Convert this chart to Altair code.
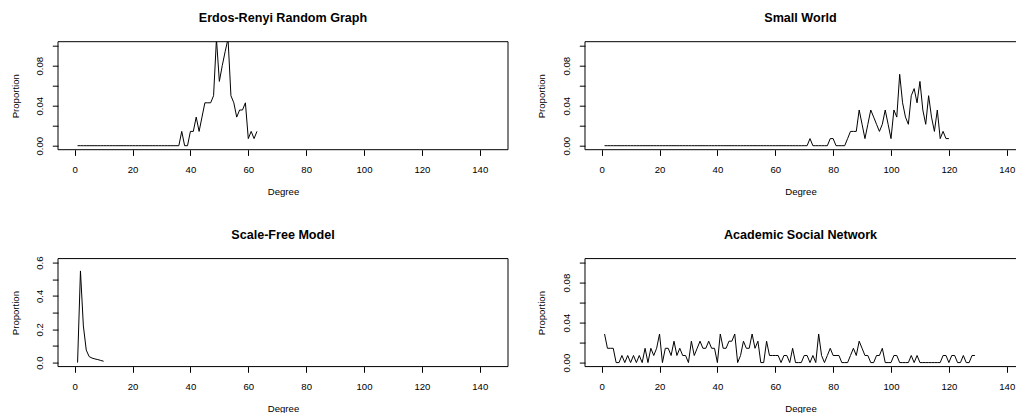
import altair as alt
import pandas as pd

FONT = "Liberation Sans"

# ---------------- data ----------------
er_degree = list(range(1, 64))
er_prop = [0.0] * 36 + [
    0.0143, 0.0, 0.0, 0.0143, 0.0143, 0.0286, 0.0143, 0.0286, 0.0429, 0.0429,
    0.0429, 0.0500, 0.1070, 0.0643, 0.0800, 0.0940, 0.1070, 0.0500, 0.0429, 0.0286,
    0.0357, 0.0357, 0.0429, 0.0071, 0.0143, 0.0071, 0.0143,
]

sw_degree = list(range(1, 121))
sw_prop = [0.0] * 71 + [
    0.0071, 0.0, 0.0, 0.0, 0.0, 0.0, 0.0, 0.0071, 0.0071, 0.0,      # 72-81
    0.0, 0.0, 0.0, 0.0071, 0.0143, 0.0143, 0.0143, 0.0357, 0.0214, 0.0071,  # 82-91
    0.0214, 0.0357, 0.0286, 0.0214, 0.0143, 0.0214, 0.0357, 0.0214, 0.0071, 0.0357,  # 92-101
    0.0286, 0.0714, 0.0429, 0.0286, 0.0214, 0.0500, 0.0571, 0.0429, 0.0643, 0.0357,  # 102-111
    0.0214, 0.0500, 0.0286, 0.0143, 0.0357, 0.0071, 0.0143, 0.0071, 0.0071,          # 112-120
]

sf_degree = list(range(1, 11))
sf_prop = [0.0, 0.55, 0.22, 0.075, 0.036, 0.027, 0.022, 0.018, 0.013, 0.008]

ac_degree = list(range(1, 130))
ac_prop = [
    0.0286, 0.0143, 0.0143, 0.0143, 0.0, 0.0, 0.0071, 0.0, 0.0071, 0.0,          # 1-10
    0.0071, 0.0, 0.0071, 0.0, 0.0143, 0.0, 0.0143, 0.0071, 0.0143, 0.0286,       # 11-20
    0.0, 0.0143, 0.0143, 0.0071, 0.0214, 0.0071, 0.0143, 0.0071, 0.0071, 0.0,    # 21-30
    0.0214, 0.0071, 0.0143, 0.0214, 0.0143, 0.0143, 0.0214, 0.0143, 0.0143, 0.0, # 31-40
    0.0286, 0.0143, 0.0143, 0.0214, 0.0214, 0.0286, 0.0, 0.0071, 0.0214, 0.0143, # 41-50
    0.0143, 0.0286, 0.0143, 0.0214, 0.0, 0.0, 0.0214, 0.0071, 0.0071, 0.0071,    # 51-60
    0.0071, 0.0, 0.0071, 0.0071, 0.0, 0.0143, 0.0, 0.0, 0.0, 0.0071,             # 61-70
    0.0071, 0.0, 0.0071, 0.0, 0.0286, 0.0071, 0.0, 0.0071, 0.0143, 0.0071,       # 71-80
    0.0071, 0.0071, 0.0, 0.0, 0.0, 0.0071, 0.0143, 0.0071, 0.0214, 0.0143,       # 81-90
    0.0071, 0.0071, 0.0, 0.0, 0.0071, 0.0071, 0.0143, 0.0, 0.0, 0.0,             # 91-100
    0.0071, 0.0071, 0.0, 0.0, 0.0, 0.0, 0.0071, 0.0, 0.0071, 0.0,                # 101-110
    0.0, 0.0, 0.0, 0.0, 0.0, 0.0, 0.0, 0.0071, 0.0071, 0.0,                      # 111-120
    0.0071, 0.0071, 0.0, 0.0, 0.0071, 0.0, 0.0, 0.0071, 0.0071,                  # 121-129
]

x_ticks = [0, 20, 40, 60, 80, 100, 120, 140]
y_ticks_small = [0.0, 0.02, 0.04, 0.06, 0.08, 0.10]
y_ticks_sf = [0.0, 0.1, 0.2, 0.3, 0.4, 0.5, 0.6]

W, H = 450, 108
W_RIGHT = 431                     # right column is cut by the window edge
X_MIN = -5.76
PX_PER_UNIT = W / (149.76 - X_MIN)
X_DOMAIN_LEFT = [X_MIN, 149.76]
X_DOMAIN_RIGHT = [X_MIN, X_MIN + W_RIGHT / PX_PER_UNIT]
Y_DOMAIN_SMALL = [-0.004, 0.104]
Y_DOMAIN_SF = [-0.024, 0.624]

small_expr = "round(datum.value * 100) % 4 == 0 ? format(datum.value, '.2f') : ''"
sf_expr = "round(datum.value * 10) % 2 == 0 ? format(datum.value, '.1f') : ''"


def panel(title, degree, prop, ydomain, yticks, label_expr, right=False, title_offset=3.4):
    width = W_RIGHT if right else W
    xdomain = X_DOMAIN_RIGHT if right else X_DOMAIN_LEFT
    df = pd.DataFrame({"Degree": degree, "Proportion": prop})
    line = alt.Chart(df).mark_line(color="black", strokeWidth=1, clip=True).encode(
        x=alt.X(
            "Degree:Q",
            scale=alt.Scale(domain=xdomain, nice=False, zero=False),
            axis=alt.Axis(
                values=x_ticks, format="d", grid=False, domain=False,
                tickSize=5.7, tickColor="black", tickWidth=1,
                labelFont=FONT, labelFontSize=9.6, labelColor="black",
                labelPadding=9.0, labelFlush=False, labelOverlap=False,
                title="Degree", titleFont=FONT, titleFontSize=9.6,
                titleFontWeight="normal", titleColor="black",
                titleY=42, titleBaseline="middle",
            ),
        ),
        y=alt.Y(
            "Proportion:Q",
            scale=alt.Scale(domain=ydomain, nice=False, zero=False),
            axis=alt.Axis(
                values=yticks, grid=False, domain=False,
                tickSize=5.7, tickColor="black", tickWidth=1,
                labelExpr=label_expr,
                labelFont=FONT, labelFontSize=9.6, labelColor="black",
                labelAngle=270, labelAlign="center", labelBaseline="middle",
                labelPadding=12.6, labelFlush=False, labelOverlap=False,
                title="Proportion", titleFont=FONT, titleFontSize=9.6,
                titleFontWeight="normal", titleColor="black",
                titleAngle=270, titleX=-43, titleY=H / 2,
                titleAlign="center", titleBaseline="middle",
            ),
        ),
    )
    frame_df = pd.DataFrame({"f": [0]})
    frame = alt.Chart(frame_df)
    edges = [
        frame.mark_rule(color="black", strokeWidth=1).encode(
            x=alt.value(0), x2=alt.value(width), y=alt.value(0)),
        frame.mark_rule(color="black", strokeWidth=1).encode(
            x=alt.value(0), x2=alt.value(width), y=alt.value(H)),
        frame.mark_rule(color="black", strokeWidth=1).encode(
            x=alt.value(0), y=alt.value(0), y2=alt.value(H)),
    ]
    if not right:
        edges.append(frame.mark_rule(color="black", strokeWidth=1).encode(
            x=alt.value(width), y=alt.value(0), y2=alt.value(H)))
    return alt.layer(line, *edges).properties(
        width=width, height=H,
        title=alt.TitleParams(
            title, font=FONT, fontSize=12.6, fontWeight="bold", color="black",
            offset=title_offset, baseline="bottom", anchor="middle",
        ),
    )


p1 = panel("Erdos-Renyi Random Graph", er_degree, er_prop, Y_DOMAIN_SMALL, y_ticks_small, small_expr)
p2 = panel("Small World", sw_degree, sw_prop, Y_DOMAIN_SMALL, y_ticks_small, small_expr, right=True)
p3 = panel("Scale-Free Model", sf_degree, sf_prop, Y_DOMAIN_SF, y_ticks_sf, sf_expr, title_offset=1.5)
p4 = panel("Academic Social Network", ac_degree, ac_prop, Y_DOMAIN_SMALL, y_ticks_small, small_expr, right=True)

top = alt.hconcat(p1, p2, spacing=28)
bottom = alt.hconcat(p3, p4, spacing=28)

chart = (
    alt.vconcat(top, bottom, spacing=31.9)
    .properties(padding={"left": 2.0, "top": 3.7, "right": 0, "bottom": 0}, background="white")
    .configure_view(stroke=None)
)

chart.save("out.html", embed_options={"renderer": "svg", "actions": False})
